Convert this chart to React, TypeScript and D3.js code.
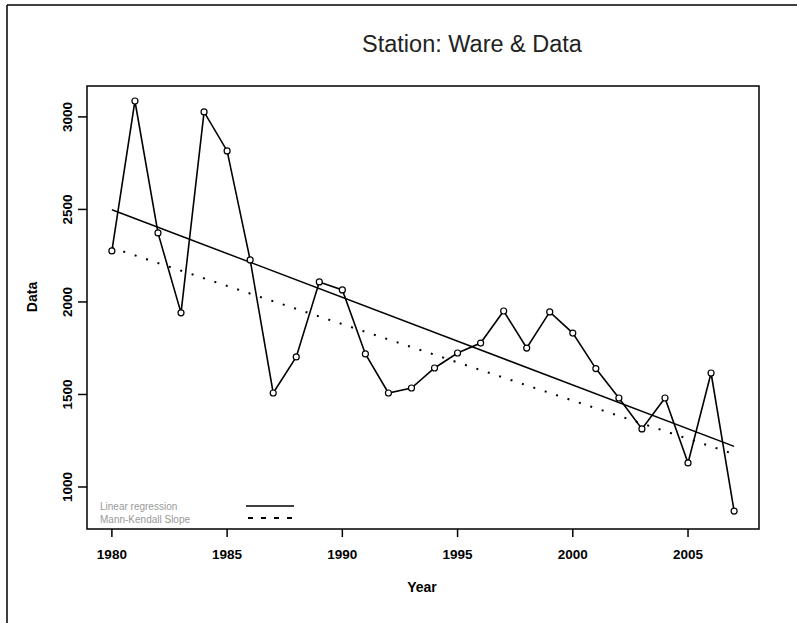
import React from "react";
import * as d3 from "d3";

const years: number[] = [
  1980, 1981, 1982, 1983, 1984, 1985, 1986, 1987, 1988, 1989, 1990, 1991, 1992, 1993,
  1994, 1995, 1996, 1997, 1998, 1999, 2000, 2001, 2002, 2003, 2004, 2005, 2006, 2007,
];
const values: number[] = [
  2276, 3086, 2373, 1941, 3027, 2816, 2227, 1508, 1703, 2108, 2065, 1719, 1508, 1535,
  1643, 1724, 1778, 1951, 1751, 1946, 1832, 1640, 1481, 1314, 1481, 1130, 1616, 870,
];
const xTicks: number[] = [1980, 1985, 1990, 1995, 2000, 2005];
const yTicks: number[] = [1000, 1500, 2000, 2500, 3000];
const senSlope = -41.3;
const senAt1980 = 2293;
const legendLabels: string[] = ["Linear regression", "Mann-Kendall Slope"];
const title = "Station: Ware & Data";

const W = 797;
const H = 623;
const plot = { left: 87, right: 759, top: 86, bottom: 529 };

export default function App() {
  const x = d3.scaleLinear().domain([1978.92, 2008.08]).range([plot.left, plot.right]);
  const y = d3.scaleLinear().domain([773, 3167]).range([plot.bottom, plot.top]);

  const pts = years.map((yr, i) => [yr, values[i]] as [number, number]);
  const line = d3
    .line<[number, number]>()
    .x((d) => x(d[0]))
    .y((d) => y(d[1]));

  // least squares regression
  const mx = d3.mean(years)!;
  const my = d3.mean(values)!;
  const sxy = d3.sum(years, (yr, i) => (yr - mx) * (values[i] - my));
  const sxx = d3.sum(years, (yr) => (yr - mx) * (yr - mx));
  const b = sxy / sxx;
  const a = my - b * mx;
  const x0 = years[0];
  const x1 = years[years.length - 1];
  const regLine: [number, number][] = [
    [x0, a + b * x0],
    [x1, a + b * x1],
  ];
  const senLine: [number, number][] = [
    [x0, senAt1980],
    [x1, senAt1980 + senSlope * (x1 - x0)],
  ];

  const tickFont = "'Liberation Sans', Arial, sans-serif";

  return (
    <svg
      width={W}
      height={H}
      style={{ position: "absolute", left: 0, top: 0, background: "#fff" }}
    >
      <rect x={0} y={0} width={W} height={H} fill="#fff" />
      {/* outer frame */}
      <line x1={7} y1={5} x2={W} y2={5} stroke="#000" strokeWidth={1.5} />
      <line x1={7} y1={5} x2={7} y2={H} stroke="#000" strokeWidth={1.5} />

      <text
        x={472}
        y={52}
        textAnchor="middle"
        fontFamily={tickFont}
        fontSize={23.5}
        fill="#222"
      >
        {title}
      </text>

      {/* plot frame */}
      <rect
        x={plot.left}
        y={plot.top}
        width={plot.right - plot.left}
        height={plot.bottom - plot.top}
        fill="none"
        stroke="#000"
        strokeWidth={1.5}
      />

      {/* x ticks */}
      {xTicks.map((t) => (
        <g key={t}>
          <line x1={x(t)} x2={x(t)} y1={plot.bottom} y2={plot.bottom + 8} stroke="#000" strokeWidth={1.5} />
          <text
            x={x(t)}
            y={559}
            textAnchor="middle"
            fontFamily={tickFont}
            fontWeight="bold"
            fontSize={13.5}
            fill="#000"
          >
            {t}
          </text>
        </g>
      ))}
      {/* y ticks */}
      {yTicks.map((t) => (
        <g key={t}>
          <line x1={plot.left - 9} x2={plot.left} y1={y(t)} y2={y(t)} stroke="#000" strokeWidth={1.5} />
          <text
            transform={`translate(72,${y(t)}) rotate(-90)`}
            textAnchor="middle"
            fontFamily={tickFont}
            fontWeight="bold"
            fontSize={13.5}
            fill="#000"
          >
            {t}
          </text>
        </g>
      ))}

      <text
        x={422}
        y={592}
        textAnchor="middle"
        fontFamily={tickFont}
        fontWeight="bold"
        fontSize={14}
        fill="#000"
      >
        Year
      </text>
      <text
        transform={`translate(37,297) rotate(-90)`}
        textAnchor="middle"
        fontFamily={tickFont}
        fontWeight="bold"
        fontSize={14}
        fill="#000"
      >
        Data
      </text>

      {/* regression line */}
      <path d={line(regLine)!} fill="none" stroke="#000" strokeWidth={1.5} />
      {/* Sen slope line */}
      <path
        d={line(senLine)!}
        fill="none"
        stroke="#000"
        strokeWidth={2}
        strokeDasharray="2 10"
      />

      {/* data */}
      <path d={line(pts)!} fill="none" stroke="#000" strokeWidth={1.6} />
      {pts.map((p, i) => (
        <circle key={i} cx={x(p[0])} cy={y(p[1])} r={3} fill="#fff" stroke="#000" strokeWidth={1.2} />
      ))}

      {/* legend */}
      <text x={100} y={510} fontFamily={tickFont} fontSize={10} fill="#999">
        {legendLabels[0]}
      </text>
      <text x={100} y={523} fontFamily={tickFont} fontSize={10} fill="#999">
        {legendLabels[1]}
      </text>
      <line x1={246} x2={294} y1={506} y2={506} stroke="#000" strokeWidth={1.5} />
      <line x1={248} x2={294} y1={518} y2={518} stroke="#000" strokeWidth={2} strokeDasharray="5 8" />
    </svg>
  );
}
